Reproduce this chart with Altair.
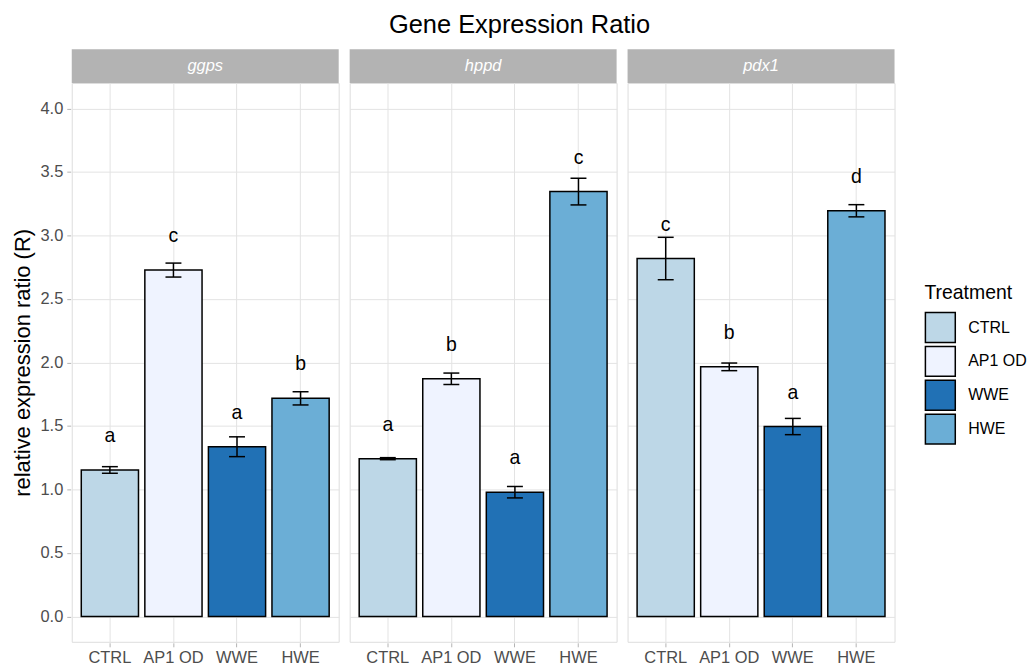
import altair as alt
import pandas as pd

genes = ["ggps", "hppd", "pdx1"]
treatments = ["CTRL", "AP1 OD", "WWE", "HWE"]
colors = ["#BDD7E7", "#EFF3FF", "#2171B5", "#6BAED6"]

mean_ggps = [1.153, 2.727, 1.336, 1.717]
mean_hppd = [1.242, 1.871, 0.978, 3.345]
mean_pdx1 = [2.818, 1.965, 1.495, 3.194]

err_ggps = [0.026, 0.055, 0.078, 0.052]
err_hppd = [0.008, 0.045, 0.045, 0.105]
err_pdx1 = [0.167, 0.030, 0.064, 0.048]

let_ggps = ["a", "c", "a", "b"]
let_hppd = ["a", "b", "a", "c"]
let_pdx1 = ["c", "b", "a", "d"]

means = [mean_ggps, mean_hppd, mean_pdx1]
errs = [err_ggps, err_hppd, err_pdx1]
lets = [let_ggps, let_hppd, let_pdx1]

rows = []
for g, m, e, l in zip(genes, means, errs, lets):
    for t, mv, ev, lv in zip(treatments, m, e, l):
        rows.append({"gene": g, "treatment": t, "mean": mv, "lo": mv - ev,
                     "hi": mv + ev, "lab": mv + 0.22, "letter": lv})
df = pd.DataFrame(rows)

FONT = "Liberation Sans"
W = 268
H = 561

minor_test = "round(datum.value*4) % 2 == 1"
yvals = [i * 0.25 for i in range(0, 17)]

x = alt.X("treatment:N", sort=treatments,
          scale=alt.Scale(paddingInner=0.1, paddingOuter=0.15),
          axis=alt.Axis(title=None, labelAngle=0, bandPosition=0.5, grid=True,
                        gridColor="#E3E3E3", gridWidth=1, tickColor="#B3B3B3",
                        tickSize=4, labelFontSize=16.5, labelColor="#4D4D4D",
                        labelFont=FONT, domain=False, labelPadding=3))

y_axis = alt.Axis(title="relative expression ratio (R)", values=yvals,
                  labelExpr="(" + minor_test + ") ? '' : format(datum.value, '.1f')",
                  gridColor={"condition": {"test": minor_test, "value": "#F0F0F0"}, "value": "#E3E3E3"},
                  tickColor={"condition": {"test": minor_test, "value": "transparent"}, "value": "#B3B3B3"},
                  tickSize=4, domain=False, labelFontSize=16.5, labelColor="#4D4D4D",
                  labelFont=FONT, titleFont=FONT, titleFontSize=22, titleFontWeight="normal",
                  titleColor="black", labelPadding=4, titlePadding=5)
yscale = alt.Scale(domain=[-0.2, 4.2], nice=False, zero=False)

base = alt.Chart().properties(width=W, height=H)

bars = base.mark_bar(stroke="black", strokeWidth=1.5).encode(
    x=x,
    y=alt.Y("mean:Q", scale=yscale, axis=y_axis),
    y2=alt.datum(0),
    fill=alt.Fill("treatment:N", sort=treatments,
                  scale=alt.Scale(domain=treatments, range=colors),
                  legend=alt.Legend(title="Treatment", orient="none",
                                    legendX=856, legendY=202,
                                    titleFontSize=19.5, titleFontWeight="normal",
                                    titleColor="black", titleFont=FONT,
                                    labelFontSize=16, labelFont=FONT, labelColor="black",
                                    symbolType="square", symbolSize=900,
                                    symbolStrokeColor="black", symbolStrokeWidth=1.5,
                                    symbolOpacity=1, rowPadding=-3, labelOffset=12,
                                    titlePadding=8)),
)

rule = base.mark_rule(color="black", strokeWidth=1.5).encode(
    x=x, y=alt.Y("lo:Q"), y2="hi:Q")
cap_lo = base.mark_tick(color="black", thickness=1.5, size=16, opacity=1).encode(
    x=x, y=alt.Y("lo:Q"))
cap_hi = base.mark_tick(color="black", thickness=1.5, size=16, opacity=1).encode(
    x=x, y=alt.Y("hi:Q"))

txt = base.mark_text(fontSize=19.5, font=FONT, baseline="alphabetic", color="black").encode(
    x=x, y=alt.Y("lab:Q"), text="letter:N")

strip = base.transform_filter(alt.datum.treatment == "CTRL").mark_rect(
    fill="#B3B3B3").encode(x=alt.value(0), x2=alt.value(W), y=alt.value(-34), y2=alt.value(0))
strip_txt = base.transform_filter(alt.datum.treatment == "CTRL").mark_text(
    color="white", fontStyle="italic", fontSize=16.5, font=FONT, baseline="middle").encode(
    x=alt.value(W / 2), y=alt.value(-17), text="gene:N")

layered = alt.layer(strip, strip_txt, bars, rule, cap_lo, cap_hi, txt, data=df)

chart = layered.facet(
    column=alt.Column("gene:N", sort=genes, header=alt.Header(title=None, labels=False)),
    spacing=9,
).properties(
    title=alt.Title("Gene Expression Ratio", fontSize=25.5, font=FONT,
                    fontWeight="normal", color="black", anchor="middle", offset=10),
    padding={"left": 4, "top": 4, "right": 0, "bottom": 0},
).configure_view(stroke="#B3B3B3", strokeWidth=1.2).configure(background="white")

chart.save("out.html", embed_options={"renderer": "svg", "actions": False})
